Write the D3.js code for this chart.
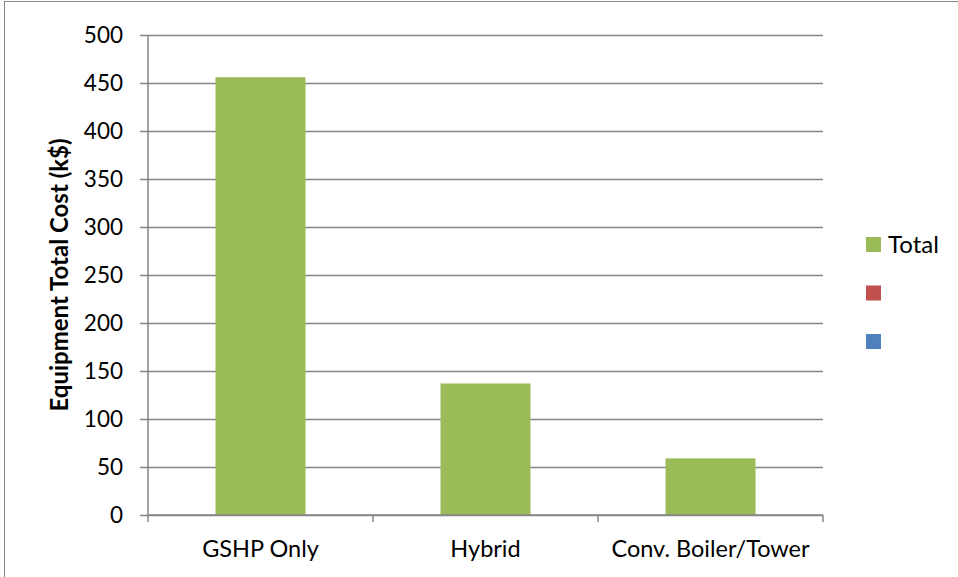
<!DOCTYPE html>
<html>
<head>
<meta charset="utf-8">
<script src="https://cdn.jsdelivr.net/npm/d3@7"></script>
<style>
  html, body { margin: 0; padding: 0; background: #fff; }
  svg { display: block; font-family: Lato, "Open Sans", sans-serif; }
</style>
</head>
<body>
<svg id="chart" width="958" height="577"></svg>
<script>
// Equipment total cost per system option (k$)
const categories = ["GSHP Only", "Hybrid", "Conv. Boiler/Tower"];
const totalCost = [456, 137, 59];
const yTicks = [0, 50, 100, 150, 200, 250, 300, 350, 400, 450, 500];
const legendLabels = ["Total", "", ""];
const legendColors = ["#9BBB59", "#C0504D", "#4F81BD"];

const svg = d3.select("#chart");
const plot = { left: 148, right: 823, top: 35, bottom: 515 };
const gridColor = "#868686";

// Outer chart frame
svg.append("rect")
  .attr("x", 4.5).attr("y", 1.5)
  .attr("width", 1000).attr("height", 700)
  .attr("fill", "none").attr("stroke", gridColor).attr("stroke-width", 1);

const x = d3.scaleBand()
  .domain(categories)
  .range([plot.left, plot.right])
  .paddingInner(0.6)
  .paddingOuter(0.3);

const y = d3.scaleLinear()
  .domain([0, 500])
  .range([plot.bottom, plot.top]);

// Horizontal gridlines with left tick marks
const yAxis = d3.axisLeft(y)
  .tickValues(yTicks)
  .tickSize(-(plot.right - plot.left))
  .tickPadding(25)
  .tickSizeOuter(0);

const gy = svg.append("g")
  .attr("transform", `translate(${plot.left},0)`)
  .call(yAxis);
gy.select(".domain").remove();
gy.selectAll(".tick line")
  .attr("x1", -8)
  .attr("stroke", gridColor).attr("stroke-width", 1.5);
gy.selectAll(".tick text")
  .attr("font-size", 22.5).attr("fill", "#000")
  .attr("font-family", "Lato, 'Open Sans', sans-serif");

// Vertical axis line
svg.append("line")
  .attr("x1", plot.left).attr("x2", plot.left)
  .attr("y1", plot.top).attr("y2", plot.bottom)
  .attr("stroke", gridColor).attr("stroke-width", 1.5);

// Bars
svg.append("g").selectAll("rect")
  .data(totalCost)
  .join("rect")
  .attr("x", (d, i) => x(categories[i]))
  .attr("y", d => y(d))
  .attr("width", x.bandwidth())
  .attr("height", d => y(0) - y(d))
  .attr("fill", legendColors[0]);

// Category axis with boundary ticks between bands
const gx = svg.append("g")
  .attr("transform", `translate(0,${plot.bottom})`);
gx.append("line")
  .attr("x1", plot.left).attr("x2", plot.right)
  .attr("stroke", gridColor).attr("stroke-width", 1.5);
const boundaries = d3.range(categories.length + 1).map(i => plot.left + i * (plot.right - plot.left) / categories.length);
gx.selectAll(".bt")
  .data(boundaries)
  .join("line")
  .attr("class", "bt")
  .attr("x1", d => d).attr("x2", d => d)
  .attr("y1", 0).attr("y2", 7)
  .attr("stroke", gridColor).attr("stroke-width", 1.5);
gx.selectAll(".cl")
  .data(categories)
  .join("text")
  .attr("class", "cl")
  .attr("x", d => x(d) + x.bandwidth() / 2)
  .attr("y", 42)
  .attr("text-anchor", "middle")
  .attr("font-size", 23.5)
  .attr("fill", "#000")
  .text(d => d);

// Vertical axis title
svg.append("text")
  .attr("transform", `translate(68,${(plot.top + plot.bottom) / 2}) rotate(-90)`)
  .attr("text-anchor", "middle")
  .attr("font-size", 24)
  .attr("font-weight", "bold")
  .attr("fill", "#000")
  .text("Equipment Total Cost (k$)");

// Legend
const legend = svg.append("g").attr("transform", "translate(866,237)");
const items = legend.selectAll("g")
  .data(legendLabels)
  .join("g")
  .attr("transform", (d, i) => `translate(0,${i * 48.5})`);
items.append("rect")
  .attr("width", 15).attr("height", 15)
  .attr("fill", (d, i) => legendColors[i]);
items.append("text")
  .attr("x", 22).attr("y", 16)
  .attr("font-size", 24)
  .attr("fill", "#000")
  .text(d => d);
</script>
</body>
</html>
